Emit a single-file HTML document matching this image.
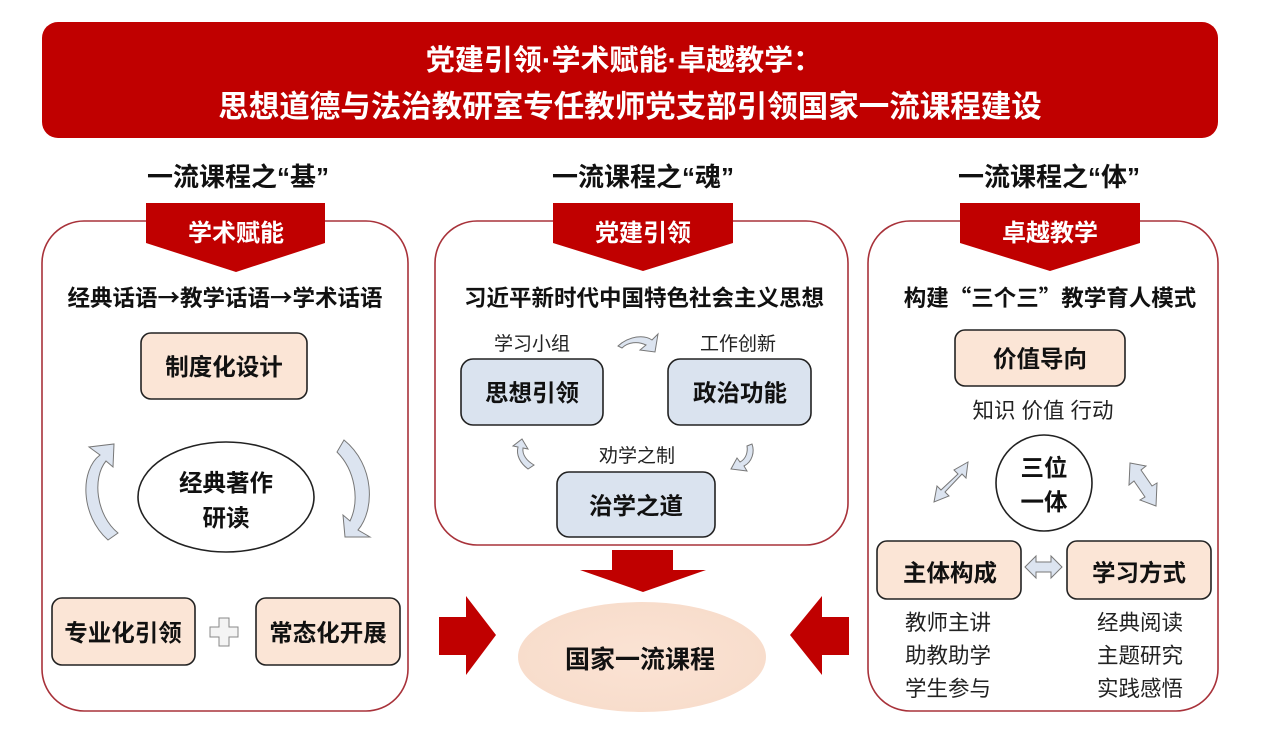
<!DOCTYPE html>
<html><head><meta charset="utf-8"><style>
body{margin:0;background:#fff;}
svg text{font-family:"Liberation Sans","Noto Sans CJK SC",sans-serif;}
.b{font-weight:bold;}
</style></head><body>
<svg width="1269" height="736" viewBox="0 0 1269 736" xmlns="http://www.w3.org/2000/svg">
<defs>
<radialGradient id="eg" cx="50%" cy="50%" r="50%"><stop offset="0" stop-color="#fbe3d4"/><stop offset="1" stop-color="#f8ddcc"/></radialGradient>
</defs>
<rect width="1269" height="736" fill="#fff"/>
<rect x="42" y="22" width="1176" height="116" rx="16" fill="#c00000"/>
<text x="624" y="70" text-anchor="middle" fill="#fff" font-size="29" class="b">党建引领·学术赋能·卓越教学：</text>
<text x="630" y="117" text-anchor="middle" fill="#fff" font-size="30.5" class="b">思想道德与法治教研室专任教师党支部引领国家一流课程建设</text>
<g font-size="26" class="b" fill="#111" text-anchor="middle">
<text x="238" y="186">一流课程之“基”</text>
<text x="643" y="186">一流课程之“魂”</text>
<text x="1049" y="186">一流课程之“体”</text>
</g>
<g fill="none" stroke="#a8323a" stroke-width="1.6">
<rect x="42" y="221" width="366" height="490" rx="42"/>
<rect x="435" y="221" width="413" height="324" rx="42"/>
<rect x="868" y="221" width="350" height="490" rx="42"/>
</g>
<g fill="#c00000">
<polygon points="146,203 325,203 325,243 236,272 146,243"/>
<polygon points="553,203 733,203 733,243 643,271 553,243"/>
<polygon points="960,203 1140,203 1140,243 1050,271 960,243"/>
</g>
<g font-size="24" class="b" fill="#fff" text-anchor="middle">
<text x="236" y="241">学术赋能</text>
<text x="643" y="241">党建引领</text>
<text x="1050" y="241">卓越教学</text>
</g>
<g font-size="22.5" class="b" fill="#111" text-anchor="middle">
<text x="225" y="306">经典话语<tspan font-family="Noto Sans CJK SC">→</tspan>教学话语<tspan font-family="Noto Sans CJK SC">→</tspan>学术话语</text>
<text x="644" y="306">习近平新时代中国特色社会主义思想</text>
<text x="1050" y="306">构建<tspan font-family="Noto Sans CJK SC">“</tspan>三个三<tspan font-family="Noto Sans CJK SC">”</tspan>教学育人模式</text>
</g>
<g stroke="#222" stroke-width="1.6">
<rect x="141" y="333" width="166" height="66" rx="10" fill="#fbe5d6"/>
<rect x="52" y="598" width="143" height="67" rx="10" fill="#fbe5d6"/>
<rect x="256" y="598" width="144" height="67" rx="10" fill="#fbe5d6"/>
<ellipse cx="226" cy="497" rx="88" ry="55" fill="#fff"/>
</g>
<g fill="#dce4f0" stroke="#777" stroke-width="1">
<path d="M108,540 C80,515 80,470 100,455 L89,447 L114,444 L113,467 L106,461 C92,478 96,515 118,533 Z"/>
<path d="M344,440 C375,465 375,510 358,530 L370,537 L345,537 L343,515 L350,521 C360,500 355,470 337,452 Z"/>
</g>
<path d="M219,618 h10 v9 h9 v10 h-9 v9 h-10 v-9 h-9 v-10 h9 Z" fill="#f4f4f4" stroke="#888" stroke-width="1"/>
<g font-size="23.5" class="b" fill="#111" text-anchor="middle">
<text x="224" y="375">制度化设计</text>
<text x="226" y="491">经典著作</text>
<text x="226" y="526">研读</text>
<text x="123" y="641">专业化引领</text>
<text x="328" y="641">常态化开展</text>
</g>
<g stroke="#222" stroke-width="1.6" fill="#dae3ef">
<rect x="461" y="359" width="142" height="66" rx="12"/>
<rect x="668" y="359" width="143" height="66" rx="12"/>
<rect x="557" y="472" width="158" height="65" rx="12"/>
</g>
<g fill="#dce4f0" stroke="#777" stroke-width="1">
<path d="M618,346 C630,335 645,335 652,340 L658,334 L655,352 L640,350 L646,345 C638,341 628,342 622,348 Z"/>
<path d="M528,469 C520,463 516,455 518,447 L513,446 L522,439 L528,449 L523,448 C522,455 527,461 534,465 Z"/>
<path d="M752,444 C755,452 752,462 744,466 L747,471 L731,469 L737,458 L740,462 C746,459 748,452 747,446 Z"/>
</g>
<g font-size="19" fill="#222" text-anchor="middle">
<text x="532" y="350">学习小组</text>
<text x="738" y="350">工作创新</text>
<text x="637" y="462">劝学之制</text>
</g>
<g font-size="23.5" class="b" fill="#111" text-anchor="middle">
<text x="532" y="401">思想引领</text>
<text x="740" y="401">政治功能</text>
<text x="636" y="514">治学之道</text>
</g>
<g fill="#c00000">
<polygon points="612,550 673,550 673,570 706,570 643,592 580,570 612,570"/>
<polygon points="439,617 466,617 466,596 496,635 466,675 466,655 439,655"/>
<polygon points="849,617 822,617 822,596 790,635 822,675 822,655 849,655"/>
</g>
<ellipse cx="642" cy="657" rx="124" ry="55" fill="url(#eg)"/>
<text x="640" y="668" text-anchor="middle" font-size="25" class="b" fill="#111">国家一流课程</text>
<g stroke="#222" stroke-width="1.6">
<rect x="955" y="330" width="170" height="56" rx="10" fill="#fbe5d6"/>
<rect x="877" y="541" width="144" height="58" rx="10" fill="#fbe5d6"/>
<rect x="1067" y="541" width="144" height="58" rx="10" fill="#fbe5d6"/>
<circle cx="1044" cy="483" r="48" fill="#fff"/>
</g>
<g fill="#dce4f0" stroke="#777" stroke-width="1">
<path d="M934,502 L937,486 L941,490 L958,474 L954,470 L968,462 L966,478 L962,474 L945,492 L949,496 Z"/>
<path d="M1130,463 L1146,466 L1141,470 L1152,486 L1157,483 L1156,506 L1140,500 L1145,497 L1134,481 L1129,485 Z"/>
<path d="M1025,567 L1036,556 L1036,562 L1051,562 L1051,556 L1062,567 L1051,578 L1051,572 L1036,572 L1036,578 Z"/>
</g>
<g font-size="23.5" class="b" fill="#111" text-anchor="middle">
<text x="1040" y="367">价值导向</text>
<text x="1044" y="476">三位</text>
<text x="1044" y="510">一体</text>
<text x="950" y="581">主体构成</text>
<text x="1139" y="581">学习方式</text>
</g>
<g font-size="21.5" fill="#222">
<text x="1043" y="418" text-anchor="middle">知识  价值  行动</text>
<text x="905" y="630">教师主讲</text>
<text x="905" y="663">助教助学</text>
<text x="905" y="696">学生参与</text>
<text x="1097" y="630">经典阅读</text>
<text x="1097" y="663">主题研究</text>
<text x="1097" y="696">实践感悟</text>
</g>
</svg>
</body></html>
